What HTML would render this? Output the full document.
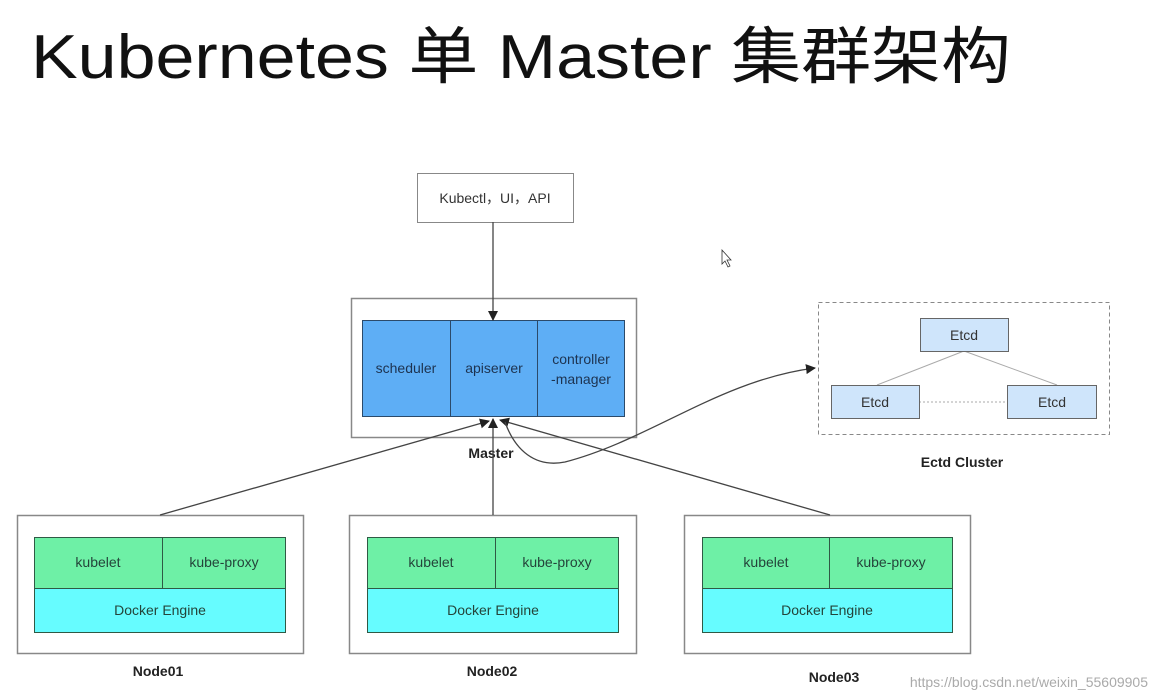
<!DOCTYPE html>
<html><head><meta charset="utf-8"><style>
html,body{margin:0;padding:0;background:#fff;}
svg{display:block;}
text{font-family:"Liberation Sans","Noto Sans CJK SC",sans-serif;}
</style></head><body>
<svg width="1157" height="700" viewBox="0 0 1157 700" xmlns="http://www.w3.org/2000/svg">
<defs>
<marker id="ah" markerWidth="10" markerHeight="10" refX="9" refY="5" orient="auto" markerUnits="userSpaceOnUse">
<path d="M0,0 L10,5 L0,10 z" fill="#222"/></marker>
</defs>
<text x="31" y="78" font-size="62" fill="#111" textLength="980" lengthAdjust="spacingAndGlyphs">Kubernetes 单 Master 集群架构</text>

<rect x="417.5" y="173.5" width="156" height="49" fill="#fff" stroke="#888"/>
<text x="495" y="203" font-size="14" text-anchor="middle" fill="#333">Kubectl，UI，API</text>

<rect x="351.5" y="298.5" width="285" height="139" fill="#fff" stroke="#888" stroke-width="1.5"/>
<rect x="362.5" y="320.5" width="262" height="96" fill="#5eaef5" stroke="#2b4a6a"/>
<line x1="450.5" y1="320" x2="450.5" y2="417" stroke="#2b4a6a"/>
<line x1="537.5" y1="320" x2="537.5" y2="417" stroke="#2b4a6a"/>
<text x="406" y="373" font-size="14" text-anchor="middle" fill="#1d3350">scheduler</text>
<text x="494" y="373" font-size="14" text-anchor="middle" fill="#1d3350">apiserver</text>
<text x="581" y="364" font-size="14" text-anchor="middle" fill="#1d3350">controller</text>
<text x="581" y="384" font-size="14" text-anchor="middle" fill="#1d3350">-manager</text>
<text x="491" y="458" font-size="14" font-weight="bold" text-anchor="middle" fill="#222">Master</text>

<rect x="818.5" y="302.5" width="291" height="132" fill="none" stroke="#888" stroke-dasharray="4,3"/>
<line x1="964" y1="351" x2="877" y2="385" stroke="#aaa"/>
<line x1="964" y1="351" x2="1057" y2="385" stroke="#aaa"/>
<line x1="919" y1="402" x2="1007" y2="402" stroke="#aaa" stroke-dasharray="2,2"/>
<rect x="920.5" y="318.5" width="88" height="33" fill="#cfe5fb" stroke="#666"/>
<rect x="831.5" y="385.5" width="88" height="33" fill="#cfe5fb" stroke="#666"/>
<rect x="1007.5" y="385.5" width="89" height="33" fill="#cfe5fb" stroke="#666"/>
<text x="964" y="340" font-size="14" text-anchor="middle" fill="#333">Etcd</text>
<text x="875" y="407" font-size="14" text-anchor="middle" fill="#333">Etcd</text>
<text x="1052" y="407" font-size="14" text-anchor="middle" fill="#333">Etcd</text>
<text x="962" y="467" font-size="14" font-weight="bold" text-anchor="middle" fill="#222">Ectd Cluster</text>

<g stroke="#888" stroke-width="1.5" fill="#fff">
<rect x="17.5" y="515.5" width="286" height="138"/>
<rect x="349.5" y="515.5" width="287" height="138"/>
<rect x="684.5" y="515.5" width="286" height="138"/>
</g>
<g stroke="#2f5a45">
<rect x="34.5" y="537.5" width="251" height="51" fill="#6ef0a6"/>
<rect x="34.5" y="588.5" width="251" height="44" fill="#66fcff"/>
<line x1="162.5" y1="537" x2="162.5" y2="588"/>
<rect x="367.5" y="537.5" width="251" height="51" fill="#6ef0a6"/>
<rect x="367.5" y="588.5" width="251" height="44" fill="#66fcff"/>
<line x1="495.5" y1="537" x2="495.5" y2="588"/>
<rect x="702.5" y="537.5" width="250" height="51" fill="#6ef0a6"/>
<rect x="702.5" y="588.5" width="250" height="44" fill="#66fcff"/>
<line x1="829.5" y1="537" x2="829.5" y2="588"/>
</g>
<g font-size="14" text-anchor="middle" fill="#24443a">
<text x="98" y="567">kubelet</text><text x="224" y="567">kube-proxy</text><text x="160" y="615">Docker Engine</text>
<text x="431" y="567">kubelet</text><text x="557" y="567">kube-proxy</text><text x="493" y="615">Docker Engine</text>
<text x="766" y="567">kubelet</text><text x="891" y="567">kube-proxy</text><text x="827" y="615">Docker Engine</text>
</g>
<g font-size="14" font-weight="bold" text-anchor="middle" fill="#222">
<text x="158" y="676">Node01</text><text x="492" y="676">Node02</text><text x="834" y="682">Node03</text>
</g>

<g stroke="#444" stroke-width="1.3" fill="none" marker-end="url(#ah)">
<line x1="493" y1="222" x2="493" y2="320"/>
<line x1="160" y1="515" x2="489" y2="421"/>
<line x1="493" y1="515" x2="493" y2="419"/>
<line x1="830" y1="515" x2="500" y2="420"/>
<path d="M505,422 C515,450 535,468 565,462 C650,440 720,380 815,368"/>
</g>
<path d="M722,250 l0,14 l3,-3 l3,6 l2,-1 l-3,-6 l4,0 z" fill="#fff" stroke="#333" stroke-width="0.8"/>
<text x="1148" y="687" font-size="14" text-anchor="end" fill="#aaa">https://blog.csdn.net/weixin_55609905</text>
</svg>
</body></html>
